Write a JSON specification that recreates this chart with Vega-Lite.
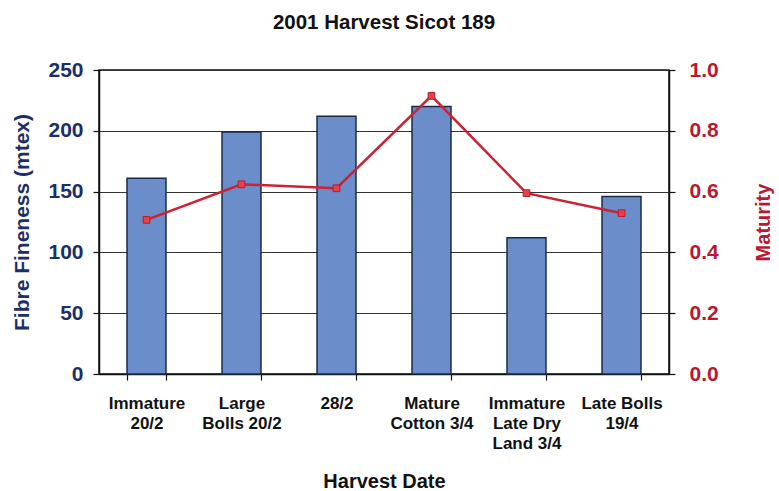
{
  "$schema": "https://vega.github.io/schema/vega-lite/v6.json",
  "width": 570,
  "height": 304,
  "autosize": "none",
  "padding": {"left": 99, "top": 70, "right": 110, "bottom": 117},
  "background": "white",
  "config": {
    "font": "Liberation Sans",
    "view": {"stroke": "#111", "strokeWidth": 1.5},
    "axis": {
      "domainColor": "#111",
      "domainWidth": 1.5,
      "tickColor": "#111",
      "tickWidth": 1.2,
      "tickSize": 6,
      "labelFont": "Liberation Sans",
      "titleFont": "Liberation Sans",
      "labelFontWeight": "bold",
      "titleFontWeight": "bold"
    }
  },
  "title": {
    "text": "2001 Harvest Sicot 189",
    "fontSize": 20.5,
    "fontWeight": "bold",
    "font": "Liberation Sans",
    "color": "#111",
    "offset": 26
  },
  "data": {
    "values": [
      {"date": "Immature|20/2", "fineness": 161, "maturity": 0.507},
      {"date": "Large|Bolls 20/2", "fineness": 199, "maturity": 0.624},
      {"date": "28/2", "fineness": 212, "maturity": 0.611},
      {"date": "Mature|Cotton 3/4", "fineness": 220, "maturity": 0.915},
      {"date": "Immature|Late Dry|Land 3/4", "fineness": 112, "maturity": 0.595},
      {"date": "Late Bolls|19/4", "fineness": 146, "maturity": 0.529}
    ]
  },
  "encoding": {
    "x": {
      "field": "date",
      "type": "nominal",
      "sort": null,
      "scale": {"paddingInner": 0.59, "paddingOuter": 0.295},
      "axis": {
        "title": "Harvest Date",
        "titleFontSize": 20,
        "titleColor": "#111",
        "titlePadding": 20,
        "labelAngle": 0,
        "labelFontSize": 17,
        "labelColor": "#111",
        "labelLineHeight": 20,
        "labelPadding": 15,
        "labelExpr": "split(datum.label, '|')",
        "tickBand": "extent",
        "grid": false
      }
    }
  },
  "layer": [
    {
      "mark": {"type": "bar", "color": "#6B8DC9", "stroke": "#1A2A4A", "strokeWidth": 1.5},
      "encoding": {
        "y": {
          "field": "fineness",
          "type": "quantitative",
          "scale": {"domain": [0, 250]},
          "axis": {
            "title": "Fibre Fineness (mtex)",
            "titleFontSize": 21,
            "titleColor": "#1B2F66",
            "titlePadding": 15,
            "labelFontSize": 21,
            "labelColor": "#1B2F66",
            "labelPadding": 10,
            "values": [0, 50, 100, 150, 200, 250],
            "grid": true,
            "gridColor": "#333",
            "gridWidth": 1.2
          }
        }
      }
    },
    {
      "mark": {
        "type": "line",
        "color": "#CC2233",
        "strokeWidth": 2.5,
        "point": {"shape": "square", "size": 45, "filled": true, "fill": "#E5414D", "stroke": "#C01A2A", "strokeWidth": 1}
      },
      "encoding": {
        "y": {
          "field": "maturity",
          "type": "quantitative",
          "scale": {"domain": [0, 1]},
          "axis": {
            "orient": "right",
            "title": "Maturity",
            "titleAngle": -90,
            "titleFontSize": 20,
            "titleColor": "#B81830",
            "titlePadding": 55,
            "labelFontSize": 21,
            "labelColor": "#B81830",
            "labelPadding": 14,
            "format": ".1f",
            "values": [0, 0.2, 0.4, 0.6, 0.8, 1.0],
            "grid": false
          }
        }
      }
    }
  ],
  "resolve": {"scale": {"y": "independent"}}
}
